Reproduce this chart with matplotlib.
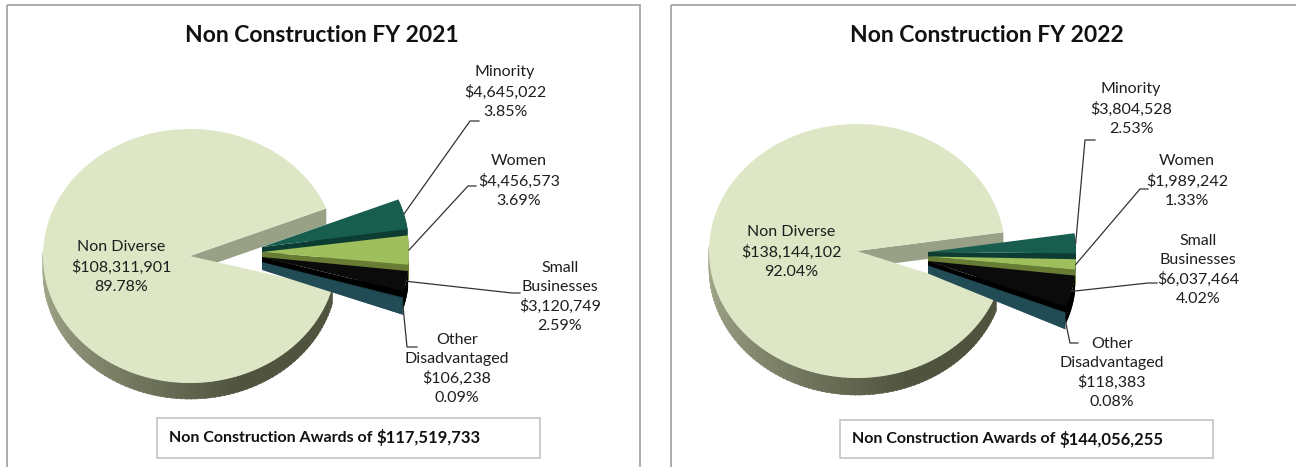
import numpy as np
import matplotlib.pyplot as plt
from matplotlib.patches import Polygon, Rectangle
from matplotlib.colors import to_rgb

plt.rcParams['font.family'] = ['Lato', 'DejaVu Sans']

# ---- data ----
titles = ["Non Construction FY 2021", "Non Construction FY 2022"]
groups = ["Minority", "Women", "Small\nBusinesses", "Other\nDisadvantaged"]
amounts_2021 = [4645022, 4456573, 3120749, 106238]
amounts_2022 = [3804528, 1989242, 6037464, 118383]
pct_2021 = [3.85, 3.69, 2.59, 0.09]
pct_2022 = [2.53, 1.33, 4.02, 0.08]
nondiverse_amount = [108311901, 138144102]
nondiverse_pct = [89.78, 92.04]
award_totals = [117519733, 144056255]

# ---- styling / layout (pixel space, y down) ----
top_cols = ["#175e4f", "#9fbe5c", "#0b0b0b", "#255866"]
side_cols = ["#0c3c32", "#687d33", "#000000", "#214c56"]
nd_top = "#dde7c5"
nd_cut = "#98a086"

panels = [
    dict(center=(190, 256), rx=147, ry=127, depth=16, start=22.0,
         svert=(262, 247), gap=5.0, border=(7, 640), title_x=322,
         box=(157, 418, 540, 458),
         nd_label=(121, 267),
         labels=[(505, 92), (519, 181), (560, 297), (457, 369)],
         elbows=[[(470, 121), (479, 121)], [(468, 186), (476, 186)],
                 [(512, 293), (520, 293)], [(407, 347), (417, 347)]]),
    dict(center=(857, 251), rx=148, ry=127, depth=17, start=8.5,
         svert=(928, 252), gap=4.5, border=(671, 1300), title_x=987,
         box=(840, 420, 1213, 458),
         nd_label=(791, 252),
         labels=[(1131, 109), (1187, 181), (1198, 270), (1112, 373)],
         elbows=[[(1085, 140), (1095, 140)], [(1140, 189), (1148, 189)],
                 [(1148, 283), (1157, 283)], [(1070, 343), (1078, 343)]]),
]

fig = plt.figure(figsize=(12.96, 4.67), dpi=100)
ax = fig.add_axes([0, 0, 1, 1])
ax.set_xlim(0, 1296)
ax.set_ylim(467, 0)
ax.axis("off")


def arc(cx, cy, rx, ry, t0, t1, n=80):
    t = np.radians(np.linspace(t0, t1, n))
    return np.column_stack([cx + rx * np.cos(t), cy - ry * np.sin(t)])


def mix(c1, c2, f):
    a, b = np.array(to_rgb(c1)), np.array(to_rgb(c2))
    return tuple(a + (b - a) * f)


for p, amounts, pcts, nd_amt, nd_p, total, title in zip(
        panels, [amounts_2021, amounts_2022], [pct_2021, pct_2022],
        nondiverse_amount, nondiverse_pct, award_totals, titles):
    x0, x1 = p["border"]
    ax.add_patch(Rectangle((x0, 5), x1 - x0, 480, fill=False, ec="#a6a6a6", lw=1.3))
    ax.text(p["title_x"], 35, title, ha="center", va="center", fontsize=16.5,
            fontweight="bold", color="#111111")

    allv = np.array(amounts + [nd_amt], dtype=float)
    fracs = allv / allv.sum()
    cx, cy = p["center"]
    rx, ry, d = p["rx"], p["ry"], p["depth"]
    s = p["start"]
    nd_end = s + 360 * fracs[-1]

    # big "Non Diverse" slice: rim with shading, cut face, top face
    ts = np.linspace(178.0, nd_end, 90)
    for a, b in zip(ts[:-1], ts[1:]):
        seg = arc(cx, cy, rx, ry, a, b + 0.6, 4)
        quad = np.vstack([seg, (seg + [0, d])[::-1]])
        f = min(1.0, max(0.0, (0.5 * (a + b) - 180) / 110))
        c = mix("#a9af92", "#50543f", f)
        ax.add_patch(Polygon(quad, closed=True, fc=c, ec=c, lw=0.4))
    pu = arc(cx, cy, rx, ry, s, s, 1)[0]
    ax.add_patch(Polygon([(cx, cy), pu, pu + [0, d], (cx, cy + d)], closed=True,
                         fc=nd_cut, ec="none"))
    top = np.vstack([[cx, cy], arc(cx, cy, rx, ry, s, nd_end, 200)])
    ax.add_patch(Polygon(top, closed=True, fc=nd_top, ec="none"))
    ax.text(*p["nd_label"], f"Non Diverse\n${nd_amt:,}\n{nd_p:.2f}%", ha="center",
            va="center", fontsize=11.5, color="#1e1e1e", linespacing=1.45)

    # small exploded slices
    vx, vy = p["svert"]
    delta = 0.6
    hi = s
    for i, (amt, pc, name) in enumerate(zip(amounts, pcts, groups)):
        span = 360 * fracs[i]
        lo = hi - span
        ox, oy = vx, vy + i * p["gap"]
        outer = arc(ox, oy, rx, ry, lo, hi, 40)
        poly = np.vstack([[ox, oy], outer])

        def dep(x):
            return 8 + 0.06 * (x - vx)

        shifted = poly + np.column_stack([np.zeros(len(poly)), dep(poly[:, 0])])
        ax.add_patch(Polygon(shifted, closed=True, fc=side_cols[i], ec="none"))
        lower = np.array([poly[0], poly[1]])
        ax.add_patch(Polygon(np.vstack([lower, shifted[[1, 0]]]), closed=True,
                             fc=side_cols[i], ec="none"))
        rim = np.vstack([outer, (outer + np.column_stack(
            [np.zeros(len(outer)), dep(outer[:, 0])]))[::-1]])
        ax.add_patch(Polygon(rim, closed=True, fc=side_cols[i], ec="none"))
        ax.add_patch(Polygon(poly, closed=True, fc=top_cols[i], ec="none"))

        # leader line and label
        mid = arc(ox, oy, rx, ry, 0.5 * (lo + hi), 0.5 * (lo + hi), 1)[0]
        if i == len(amounts) - 1:
            mid = mid + [0, dep(mid[0]) * 0.5]
        pts = np.vstack([mid] + [np.array(e) for e in p["elbows"][i]])
        ax.plot(pts[:, 0], pts[:, 1], color="#333333", lw=0.9)
        ax.text(*p["labels"][i], f"{name}\n${amt:,}\n{pc:.2f}%", ha="center",
                va="center", fontsize=11.5, color="#1e1e1e", linespacing=1.45)

        hi = lo - delta

    # total box
    bx0, by0, bx1, by1 = p["box"]
    ax.add_patch(Rectangle((bx0, by0), bx1 - bx0, by1 - by0, fill=False,
                           ec="#c4c4c4", lw=1.2))
    t1 = ax.text(bx0 + 12, (by0 + by1) / 2, "Non Construction Awards of ",
                 ha="left", va="center", fontsize=11.5, fontweight="bold",
                 color="#111111")
    ax.annotate(f"${total:,}", xy=(1, 0.5), xycoords=t1, ha="left", va="center",
                fontsize=12, fontweight="bold", color="#111111")

fig.savefig("out.png", dpi=100, facecolor="white")
